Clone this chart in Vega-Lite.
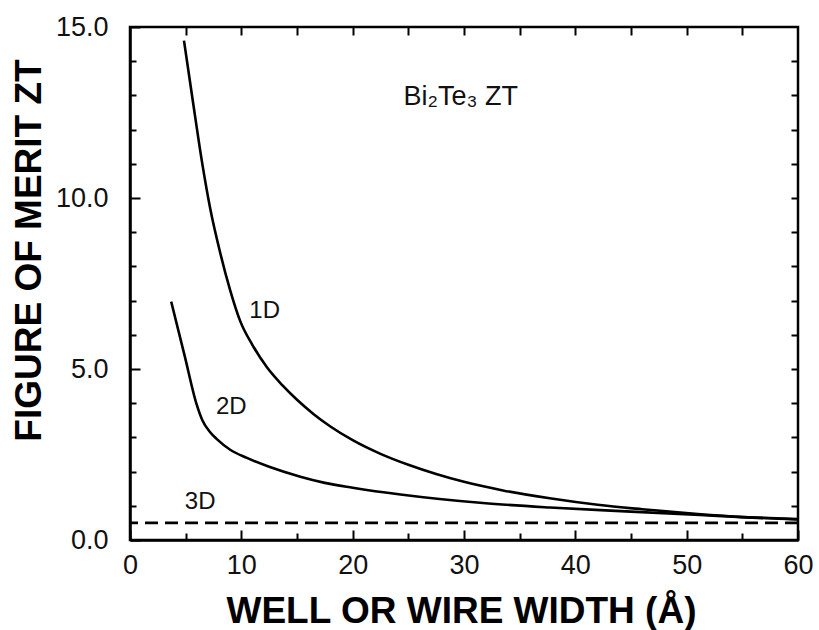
{
  "$schema": "https://vega.github.io/schema/vega-lite/v6.json",
  "width": 668,
  "height": 513,
  "autosize": {"type": "none"},
  "padding": {"left": 130, "top": 27, "right": 21, "bottom": 90},
  "background": "white",
  "config": {
    "view": {"stroke": "black", "strokeWidth": 2.5},
    "font": "Liberation Sans"
  },
  "datasets": {
    "curves": [
      {"curve": "1D", "width": 4.85, "zt": 14.6},
      {"curve": "1D", "width": 5.66, "zt": 12.8},
      {"curve": "1D", "width": 6.47, "zt": 11.05},
      {"curve": "1D", "width": 7.2, "zt": 9.7},
      {"curve": "1D", "width": 8.1, "zt": 8.4},
      {"curve": "1D", "width": 9.0, "zt": 7.3},
      {"curve": "1D", "width": 9.9, "zt": 6.4},
      {"curve": "1D", "width": 11.0, "zt": 5.7},
      {"curve": "1D", "width": 12.3, "zt": 5.05},
      {"curve": "1D", "width": 13.7, "zt": 4.52},
      {"curve": "1D", "width": 15, "zt": 4.1},
      {"curve": "1D", "width": 16.5, "zt": 3.68},
      {"curve": "1D", "width": 18, "zt": 3.32},
      {"curve": "1D", "width": 20, "zt": 2.92},
      {"curve": "1D", "width": 22.5, "zt": 2.52},
      {"curve": "1D", "width": 25, "zt": 2.2},
      {"curve": "1D", "width": 27.5, "zt": 1.93},
      {"curve": "1D", "width": 30, "zt": 1.7},
      {"curve": "1D", "width": 33.5, "zt": 1.45},
      {"curve": "1D", "width": 37.7, "zt": 1.22},
      {"curve": "1D", "width": 42, "zt": 1.03},
      {"curve": "1D", "width": 46, "zt": 0.9},
      {"curve": "1D", "width": 51, "zt": 0.76},
      {"curve": "1D", "width": 55, "zt": 0.67},
      {"curve": "1D", "width": 60, "zt": 0.6},
      {"curve": "2D", "width": 3.7, "zt": 6.97},
      {"curve": "2D", "width": 4.9, "zt": 5.4},
      {"curve": "2D", "width": 6.0, "zt": 3.95},
      {"curve": "2D", "width": 6.5, "zt": 3.5},
      {"curve": "2D", "width": 7.2, "zt": 3.15},
      {"curve": "2D", "width": 7.8, "zt": 2.95},
      {"curve": "2D", "width": 9.0, "zt": 2.64},
      {"curve": "2D", "width": 10.5, "zt": 2.4},
      {"curve": "2D", "width": 12.5, "zt": 2.14},
      {"curve": "2D", "width": 15.3, "zt": 1.85},
      {"curve": "2D", "width": 17.5, "zt": 1.67},
      {"curve": "2D", "width": 20, "zt": 1.53},
      {"curve": "2D", "width": 24.3, "zt": 1.33},
      {"curve": "2D", "width": 31.7, "zt": 1.08},
      {"curve": "2D", "width": 37.7, "zt": 0.95},
      {"curve": "2D", "width": 45, "zt": 0.83},
      {"curve": "2D", "width": 51.2, "zt": 0.73},
      {"curve": "2D", "width": 55, "zt": 0.67},
      {"curve": "2D", "width": 60, "zt": 0.61}
    ],
    "threeD": [{"curve": "3D", "zt": 0.5}],
    "labels": [
      {"label": "Bi₂Te₃ ZT", "x": 29.7, "y": 12.95, "size": 27},
      {"label": "1D", "x": 12.1, "y": 6.7, "size": 24},
      {"label": "2D", "x": 9.1, "y": 3.9, "size": 24},
      {"label": "3D", "x": 6.3, "y": 1.1, "size": 24}
    ]
  },
  "layer": [
    {
      "data": {"name": "curves"},
      "mark": {"type": "line", "color": "black", "strokeWidth": 2.6, "interpolate": "monotone"},
      "encoding": {
        "x": {
          "field": "width", "type": "quantitative",
          "scale": {"domain": [0, 60], "nice": false},
          "axis": {
            "orient": "bottom",
            "title": "WELL OR WIRE WIDTH (Å)",
            "titleFont": "Liberation Sans", "titleFontWeight": "bold", "titleFontSize": 37, "titleColor": "black",
            "titleBaseline": "alphabetic", "titleX": 331, "titleY": 82, "titleAnchor": "middle",
            "values": [0, 5, 10, 15, 20, 25, 30, 35, 40, 45, 50, 55, 60],
            "labelExpr": "datum.value % 10 == 0 ? format(datum.value, 'd') : ''",
            "labelFontSize": 27, "labelColor": "#111", "labelFlush": false, "labelOverlap": false,
            "tickSize": {"condition": {"test": "datum.value % 10 == 0", "value": -10}, "value": -7},
            "tickColor": "black", "tickWidth": 2,
            "labelPadding": 22,
            "domainColor": "black", "domainWidth": 2.5, "grid": false
          }
        },
        "y": {
          "field": "zt", "type": "quantitative",
          "scale": {"domain": [0, 15], "nice": false},
          "axis": {
            "orient": "left",
            "title": "FIGURE OF MERIT ZT",
            "titleFont": "Liberation Sans", "titleFontWeight": "bold", "titleFontSize": 37, "titleColor": "black",
            "titleAngle": -90, "titleBaseline": "middle", "titleAlign": "center", "titleX": -101, "titleY": 223,
            "values": [0, 1, 2, 3, 4, 5, 6, 7, 8, 9, 10, 11, 12, 13, 14, 15],
            "labelExpr": "datum.value % 5 == 0 ? format(datum.value, '.1f') : ''",
            "labelFontSize": 27, "labelColor": "#111", "labelFlush": false, "labelOverlap": false,
            "tickSize": {"condition": {"test": "datum.value % 5 == 0", "value": -10}, "value": -6},
            "tickColor": "black", "tickWidth": 2,
            "labelPadding": 32,
            "domainColor": "black", "domainWidth": 2.5, "grid": false
          }
        },
        "detail": {"field": "curve", "type": "nominal"}
      }
    },
    {
      "data": {"name": "threeD"},
      "mark": {"type": "rule", "color": "black", "strokeWidth": 2.6, "strokeDash": [13, 7]},
      "encoding": {
        "y": {"field": "zt", "type": "quantitative", "axis": null}
      }
    },
    {
      "data": {"name": "labels"},
      "mark": {"type": "text", "color": "#111", "font": "Liberation Sans", "align": "center", "baseline": "middle"},
      "encoding": {
        "x": {
          "field": "x", "type": "quantitative",
          "axis": {
            "orient": "top", "title": null, "labels": false,
            "values": [5, 10, 15, 20, 25, 30, 35, 40, 45, 50, 55],
            "tickSize": -8, "tickColor": "black", "tickWidth": 2,
            "domain": false, "grid": false
          }
        },
        "y": {
          "field": "y", "type": "quantitative",
          "axis": {
            "orient": "right", "title": null, "labels": false,
            "values": [1, 2, 3, 4, 5, 6, 7, 8, 9, 10, 11, 12, 13, 14],
            "tickSize": -7, "tickColor": "black", "tickWidth": 2,
            "domain": false, "grid": false
          }
        },
        "text": {"field": "label", "type": "nominal"},
        "size": {"field": "size", "type": "quantitative", "scale": null}
      }
    }
  ],
  "resolve": {"axis": {"x": "independent", "y": "independent"}}
}
